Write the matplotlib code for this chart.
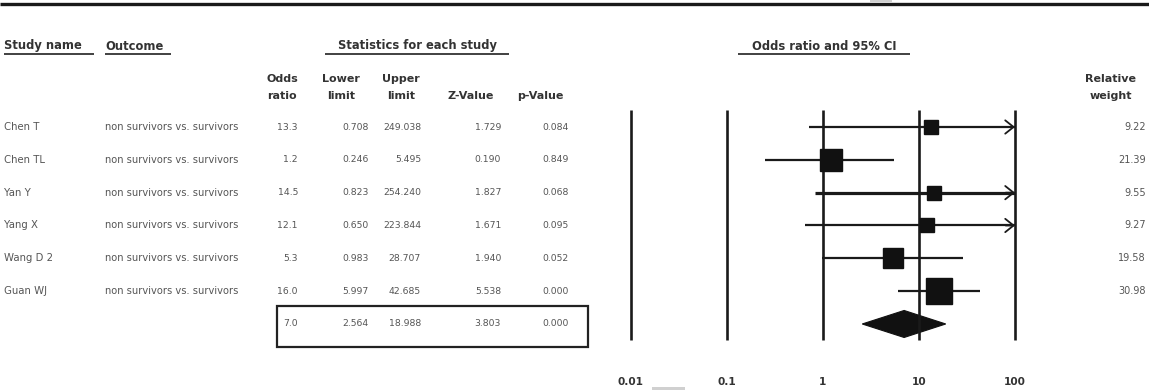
import numpy as np
import matplotlib
matplotlib.use("Agg")
import matplotlib.pyplot as plt
from matplotlib.patches import Rectangle, Polygon

# ---------------- data ----------------
studies = ["Chen T", "Chen TL", "Yan Y", "Yang X", "Wang D 2", "Guan WJ"]
outcome = "non survivors vs. survivors"
odds = [13.3, 1.2, 14.5, 12.1, 5.3, 16.0]
lower = [0.708, 0.246, 0.823, 0.650, 0.983, 5.997]
upper = [249.038, 5.495, 254.240, 223.844, 28.707, 42.685]
zval = [1.729, 0.190, 1.827, 1.671, 1.940, 5.538]
pval = [0.084, 0.849, 0.068, 0.095, 0.052, 0.000]
weights = [9.22, 21.39, 9.55, 9.27, 19.58, 30.98]
summary = dict(odds=7.0, lower=2.564, upper=18.988, z=3.803, p=0.000)
ticks = [0.01, 0.1, 1, 10, 100]
tick_labels = ["0.01", "0.1", "1", "10", "100"]

# ---------------- layout ----------------
W, H, DPI = 1149, 390, 100
ROW0, ROWH = 127.0, 32.83          # pixel y of first row, row spacing


def r(ypx):
    """pixel y -> row units"""
    return (ypx - ROW0) / ROWH


fig = plt.figure(figsize=(W / DPI, H / DPI), dpi=DPI)
fig.patch.set_facecolor("white")
bg = fig.add_axes([0, 0, 1, 1])
bg.set_xlim(0, W)
bg.set_ylim(r(H), r(0))
bg.axis("off")

FONT = "DejaVu Sans"
TXT = "#555555"
HDR = "#333333"
fs_val = 6.7
fs_name = 7.3
fs_out = 7.1
fs_hdr = 8.0
fs_sec = 8.3

# top thick rule
bg.plot([0, W], [r(3.5), r(3.5)], color="#1a1a1a", lw=2.4, solid_capstyle="butt")
bg.add_patch(Rectangle((870, r(0)), 22, r(2) - r(0), color="#d0d0d0", lw=0))
bg.add_patch(Rectangle((652, r(387)), 33, r(390) - r(387), color="#d0d0d0", lw=0))

# section headers with underline
def header(x, text, ha, ul):
    bg.text(x, r(46), text, ha=ha, va="center", fontsize=fs_sec, fontweight="bold",
            color=HDR, family=FONT)
    bg.plot(ul, [r(53.5), r(53.5)], color="#333333", lw=1.3, solid_capstyle="butt")

header(4, "Study name", "left", [4, 94])
header(105, "Outcome", "left", [105, 171])
header(417, "Statistics for each study", "center", [325, 509])
header(824, "Odds ratio and 95% CI", "center", [738, 910])

# column headers
col_right = [298, 369, 421, 501, 569]
hdr1 = ["Odds", "Lower", "Upper", "", ""]
hdr2 = ["ratio", "limit", "limit", "Z-Value", "p-Value"]
hdr_x = [282, 341, 401, 471, 540]
for x, a, b in zip(hdr_x, hdr1, hdr2):
    bg.text(x, r(79), a, ha="center", va="center", fontsize=fs_hdr, fontweight="bold",
            color=HDR, family=FONT)
    bg.text(x, r(96), b, ha="center", va="center", fontsize=fs_hdr, fontweight="bold",
            color=HDR, family=FONT)
bg.text(1111, r(79), "Relative", ha="center", va="center", fontsize=fs_hdr,
        fontweight="bold", color=HDR, family=FONT)
bg.text(1111, r(96), "weight", ha="center", va="center", fontsize=fs_hdr,
        fontweight="bold", color=HDR, family=FONT)

# study rows
for i, name in enumerate(studies):
    bg.text(4, i, name, ha="left", va="center", fontsize=fs_name, color=TXT, family=FONT)
    bg.text(105, i, outcome, ha="left", va="center", fontsize=fs_out, color=TXT,
            family=FONT)
    vals = [f"{odds[i]:.1f}", f"{lower[i]:.3f}", f"{upper[i]:.3f}", f"{zval[i]:.3f}",
            f"{pval[i]:.3f}"]
    for x, v in zip(col_right, vals):
        bg.text(x, i, v, ha="right", va="center", fontsize=fs_val, color=TXT, family=FONT)
    bg.text(1146, i, f"{weights[i]:.2f}", ha="right", va="center", fontsize=7.0,
            color=TXT, family=FONT)

# summary row
srow = len(studies)
svals = [f"{summary['odds']:.1f}", f"{summary['lower']:.3f}", f"{summary['upper']:.3f}",
         f"{summary['z']:.3f}", f"{summary['p']:.3f}"]
for x, v in zip(col_right, svals):
    bg.text(x, srow, v, ha="right", va="center", fontsize=fs_val, color=TXT, family=FONT)
bg.add_patch(Rectangle((277, r(306)), 588 - 277, r(347) - r(306), fill=False,
                       edgecolor="#222222", lw=1.6))

# ---------------- forest plot ----------------
x0, x1 = 631, 1015
fa = fig.add_axes([x0 / W, 0, (x1 - x0) / W, 1])
fa.set_xscale("log")
fa.set_xlim(ticks[0], ticks[-1])
fa.set_ylim(r(H), r(0))
fa.axis("off")

top, bot = r(110), r(340)
for t, lab in zip(ticks, tick_labels):
    fa.plot([t, t], [top, bot], color="#1a1a1a", lw=1.9, solid_capstyle="butt",
            clip_on=False)
    fa.text(t, r(382), lab, ha="center", va="center", fontsize=7.6, fontweight="bold",
            color=HDR, family=FONT)

xmax = ticks[-1]
for i in range(len(studies)):
    lw = 2.3 if studies[i] == "Yan Y" else 1.6
    if upper[i] > xmax:
        fa.plot([lower[i], xmax], [i, i], color="#1a1a1a", lw=lw, clip_on=False,
                solid_capstyle="butt")
        fa.annotate("", xy=(xmax, i), xytext=(xmax * 0.8, i),
                    arrowprops=dict(arrowstyle="->,head_length=0.5,head_width=0.4",
                                    color="#1a1a1a", lw=1.3, shrinkA=0, shrinkB=0,
                                    mutation_scale=12),
                    annotation_clip=False)
    else:
        fa.plot([lower[i], upper[i]], [i, i], color="#1a1a1a", lw=lw, clip_on=False,
                solid_capstyle="butt")
    side_px = 4.6 * np.sqrt(weights[i])
    fa.plot([odds[i]], [i], marker="s", linestyle="none",
            markersize=side_px * 72 / DPI, color="#111111", clip_on=False)

half = 13.5 / ROWH
dia = Polygon([(summary["lower"], srow), (summary["odds"], srow - half),
               (summary["upper"], srow), (summary["odds"], srow + half)],
              closed=True, facecolor="#111111", edgecolor="#111111", lw=0.8)
fa.add_patch(dia)

fig.savefig("out.png", dpi=DPI, facecolor="white")
